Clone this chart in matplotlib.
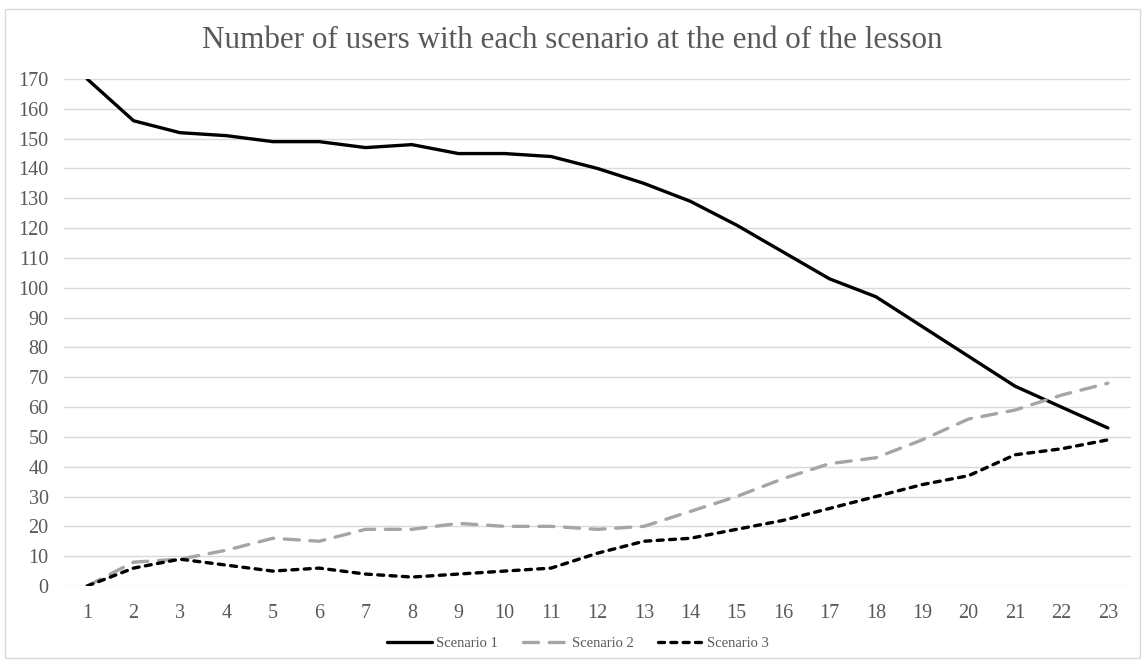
import matplotlib
matplotlib.use("Agg")
import matplotlib.pyplot as plt
from matplotlib.patches import Rectangle

lessons = list(range(1, 24))
scenario1 = [170, 156, 152, 151, 149, 149, 147, 148, 145, 145, 144, 140, 135, 129,
             121, 112, 103, 97, 87, 77, 67, 60, 53]
scenario2 = [0, 8, 9, 12, 16, 15, 19, 19, 21, 20, 20, 19, 20, 25,
             30, 36, 41, 43, 49, 56, 59, 64, 68]
scenario3 = [0, 6, 9, 7, 5, 6, 4, 3, 4, 5, 6, 11, 15, 16,
             19, 22, 26, 30, 34, 37, 44, 46, 49]
y_ticks = list(range(0, 171, 10))
title = "Number of users with each scenario at the end of the lesson"

plt.rcParams['font.family'] = ['Liberation Serif', 'DejaVu Serif']

fig = plt.figure(figsize=(11.45, 6.64), dpi=100)
ax = fig.add_axes([64/1145, 1-586/664, (1131-64)/1145, (586-79)/664])

grey_txt = '#595959'
ax.plot(lessons, scenario1, color='black', lw=2.4, solid_capstyle='round',
        solid_joinstyle='round', label='Scenario 1')
ax.plot(lessons, scenario2, color='#a5a5a5', lw=2.4, dashes=(4.5, 3.2),
        dash_capstyle='round', label='Scenario 2')
ax.plot(lessons, scenario3, color='black', lw=2.4, dashes=(1.8, 1.9),
        dash_capstyle='round', label='Scenario 3')

ax.set_xlim(0.5, 23.5)
ax.set_ylim(0, 170)
ax.set_yticks(y_ticks)
ax.set_xticks(lessons)
ax.set_xticklabels([str(v) for v in lessons])
ax.grid(axis='y', color='#d9d9d9', lw=1)
ax.set_axisbelow(True)
for s in ax.spines.values():
    s.set_visible(False)
ax.tick_params(axis='both', length=0, labelsize=14.5, colors=grey_txt)
ax.tick_params(axis='x', pad=13)
ax.tick_params(axis='y', pad=11)

fig.text(0.5, 1-41/664, title, ha='center', va='center', fontsize=22.4, color=grey_txt)

leg = fig.legend(loc='center', bbox_to_anchor=(578/1145, 1-643/664), ncol=3, frameon=False,
                 fontsize=10.5, handlelength=3.1, handletextpad=0.25, columnspacing=1.7)
for t in leg.get_texts():
    t.set_color(grey_txt)

fig.patches.append(Rectangle((5/1145, 1-658/664), (1140-5)/1145, (658-9)/664,
                             transform=fig.transFigure, fill=False,
                             edgecolor='#d9d9d9', lw=1))

fig.savefig('out.png', dpi=100, facecolor='white')
